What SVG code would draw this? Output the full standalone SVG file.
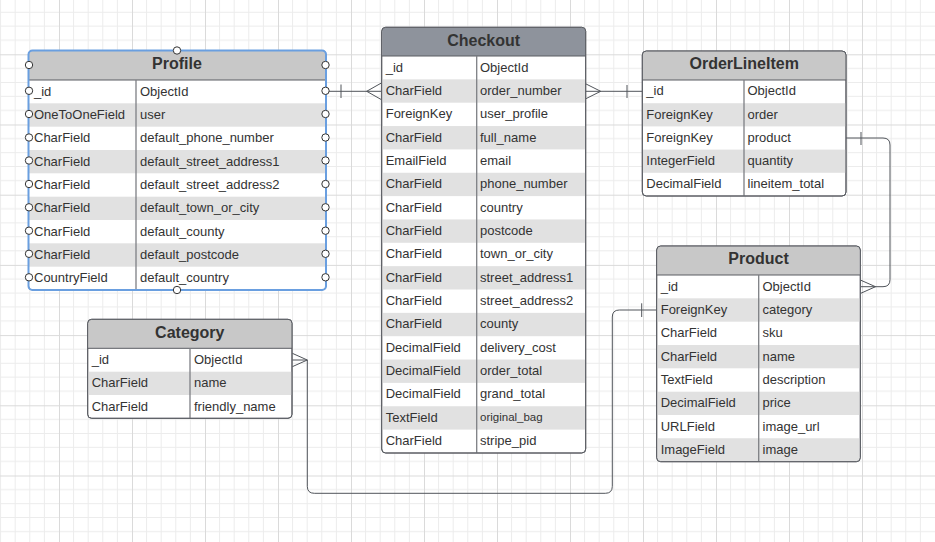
<svg xmlns="http://www.w3.org/2000/svg" width="935" height="542" viewBox="0 0 935 542">
<style>
.t{font-family:"Liberation Sans",Arial,sans-serif;font-size:13px;fill:#333}
.ts{font-family:"Liberation Sans",Arial,sans-serif;font-size:11.5px;fill:#333}
.h{font-family:"Liberation Sans",Arial,sans-serif;font-size:16px;font-weight:bold;fill:#333;text-anchor:middle}
.box{fill:#fff;stroke:#5a5d63;stroke-width:1}
.hd{fill:#c8c8c8}
.hdk{fill:#8e939c}
.g{fill:#e1e1e1}
.hl{stroke:#5a5d63;stroke-width:1}
.dv{stroke:#7d7f84;stroke-width:1.3}
.cn{fill:none;stroke:#50545a;stroke-width:1}
.hn{fill:#fff;stroke:#333;stroke-width:1}
</style>
<defs>
<pattern id="grid" patternUnits="userSpaceOnUse" x="59" y="54.3" width="73" height="70.2">
<path d="M14.6 0V70.2M29.2 0V70.2M43.8 0V70.2M58.4 0V70.2M0 14.04H73M0 28.08H73M0 42.12H73M0 56.16H73" stroke="#ececec" stroke-width="1" fill="none"/>
<path d="M0.5 0V70.2M0 0.5H73" stroke="#dadada" stroke-width="1" fill="none"/>
</pattern>
</defs>
<rect width="935" height="542" fill="#fff"/>
<rect width="935" height="542" fill="url(#grid)"/>

<g id="connectors">
<path class="cn" d="M326 91.3H381.7"/>
<path class="cn" d="M341 84.5V98"/>
<path class="cn" d="M381.7 82.8L366.7 91.3L381.7 99.8"/>
<path class="cn" d="M585.7 91.3H642.3"/>
<path class="cn" d="M585.7 83.8L600.7 91.3L585.7 98.8"/>
<path class="cn" d="M627 85V98"/>
<path class="cn" d="M846 138H883Q890 138 890 145V279.7Q890 286.7 883 286.7H860.3"/>
<path class="cn" d="M861 132V145"/>
<path class="cn" d="M860.3 280L875.5 286.7L860.3 293.5"/>
<path class="cn" d="M292.3 360H307.3V486.3Q307.3 493.3 314.3 493.3H605.3Q612.3 493.3 612.3 486.3V317Q612.3 310 619.3 310H656.7"/>
<path class="cn" d="M292.3 353.3L307.3 360L292.3 366.7"/>
<path class="cn" d="M641.7 303.3V317"/>
</g>

<g id="profile">
<rect class="box" x="28.5" y="50.5" width="297.5" height="239.5" rx="4"/>
<path class="hd" d="M32.5 51H322Q325.5 51 325.5 54.5V80H29V54.5Q29 51 32.5 51Z"/>
<rect class="g" x="29" y="103.3" width="296.5" height="23.4"/>
<rect class="g" x="29" y="150" width="296.5" height="23.3"/>
<rect class="g" x="29" y="196.7" width="296.5" height="23.3"/>
<rect class="g" x="29" y="243.3" width="296.5" height="23.4"/>
<path class="hl" d="M28.5 80H326"/>
<path class="dv" d="M136 80V290"/>
<rect x="28.5" y="50.5" width="297.5" height="239.5" rx="4" fill="none" stroke="#6a9fe0" stroke-width="2"/>
<text class="h" x="177" y="69">Profile</text>
<text class="t" x="34" y="95.5">_id</text><text class="t" x="140" y="95.5">ObjectId</text>
<text class="t" x="34" y="118.8">OneToOneField</text><text class="t" x="140" y="118.8">user</text>
<text class="t" x="34" y="142.1">CharField</text><text class="t" x="140" y="142.1">default_phone_number</text>
<text class="t" x="34" y="165.5">CharField</text><text class="t" x="140" y="165.5">default_street_address1</text>
<text class="t" x="34" y="188.8">CharField</text><text class="t" x="140" y="188.8">default_street_address2</text>
<text class="t" x="34" y="212.1">CharField</text><text class="t" x="140" y="212.1">default_town_or_city</text>
<text class="t" x="34" y="235.5">CharField</text><text class="t" x="140" y="235.5">default_county</text>
<text class="t" x="34" y="258.8">CharField</text><text class="t" x="140" y="258.8">default_postcode</text>
<text class="t" x="34" y="282.1">CountryField</text><text class="t" x="140" y="282.1">default_country</text>
<g id="profile-handles">
<circle class="hn" cx="177" cy="50.5" r="3.7"/><circle class="hn" cx="177" cy="290" r="3.7"/>
<circle class="hn" cx="29" cy="65" r="3.7"/><circle class="hn" cx="325.5" cy="65" r="3.7"/>
<circle class="hn" cx="29" cy="90.8" r="3.7"/><circle class="hn" cx="325.5" cy="90.8" r="3.7"/>
<circle class="hn" cx="29" cy="114" r="3.7"/><circle class="hn" cx="325.5" cy="114" r="3.7"/>
<circle class="hn" cx="29" cy="137.5" r="3.7"/><circle class="hn" cx="325.5" cy="137.5" r="3.7"/>
<circle class="hn" cx="29" cy="160.5" r="3.7"/><circle class="hn" cx="325.5" cy="160.5" r="3.7"/>
<circle class="hn" cx="29" cy="184" r="3.7"/><circle class="hn" cx="325.5" cy="184" r="3.7"/>
<circle class="hn" cx="29" cy="207.3" r="3.7"/><circle class="hn" cx="325.5" cy="207.3" r="3.7"/>
<circle class="hn" cx="29" cy="230.7" r="3.7"/><circle class="hn" cx="325.5" cy="230.7" r="3.7"/>
<circle class="hn" cx="29" cy="253.8" r="3.7"/><circle class="hn" cx="325.5" cy="253.8" r="3.7"/>
<circle class="hn" cx="29" cy="277.3" r="3.7"/><circle class="hn" cx="325.5" cy="277.3" r="3.7"/>
</g>
</g>

<g id="checkout">
<rect class="box" x="381.7" y="27.3" width="204" height="425.7" rx="4"/>
<path class="hdk" d="M385.7 27.8H581.7Q585.2 27.8 585.2 31.3V56H382.2V31.3Q382.2 27.8 385.7 27.8Z"/>
<rect class="g" x="382.2" y="79.35" width="203" height="23.35"/>
<rect class="g" x="382.2" y="126.05" width="203" height="23.35"/>
<rect class="g" x="382.2" y="172.75" width="203" height="23.35"/>
<rect class="g" x="382.2" y="219.45" width="203" height="23.35"/>
<rect class="g" x="382.2" y="266.15" width="203" height="23.35"/>
<rect class="g" x="382.2" y="312.85" width="203" height="23.35"/>
<rect class="g" x="382.2" y="359.55" width="203" height="23.35"/>
<rect class="g" x="382.2" y="406.25" width="203" height="23.35"/>
<path class="hl" d="M381.7 56H585.7"/>
<path class="dv" d="M476.7 56V453"/>
<rect x="381.7" y="27.3" width="204" height="425.7" rx="4" fill="none" stroke="#5a5d63"/>
<text class="h" x="483.7" y="45.8">Checkout</text>
<text class="t" x="385.7" y="71.5">_id</text><text class="t" x="480" y="71.5">ObjectId</text>
<text class="t" x="385.7" y="94.8">CharField</text><text class="t" x="480" y="94.8">order_number</text>
<text class="t" x="385.7" y="118.2">ForeignKey</text><text class="t" x="480" y="118.2">user_profile</text>
<text class="t" x="385.7" y="141.5">CharField</text><text class="t" x="480" y="141.5">full_name</text>
<text class="t" x="385.7" y="164.9">EmailField</text><text class="t" x="480" y="164.9">email</text>
<text class="t" x="385.7" y="188.2">CharField</text><text class="t" x="480" y="188.2">phone_number</text>
<text class="t" x="385.7" y="211.6">CharField</text><text class="t" x="480" y="211.6">country</text>
<text class="t" x="385.7" y="234.9">CharField</text><text class="t" x="480" y="234.9">postcode</text>
<text class="t" x="385.7" y="258.3">CharField</text><text class="t" x="480" y="258.3">town_or_city</text>
<text class="t" x="385.7" y="281.6">CharField</text><text class="t" x="480" y="281.6">street_address1</text>
<text class="t" x="385.7" y="305">CharField</text><text class="t" x="480" y="305">street_address2</text>
<text class="t" x="385.7" y="328.3">CharField</text><text class="t" x="480" y="328.3">county</text>
<text class="t" x="385.7" y="351.7">DecimalField</text><text class="t" x="480" y="351.7">delivery_cost</text>
<text class="t" x="385.7" y="375">DecimalField</text><text class="t" x="480" y="375">order_total</text>
<text class="t" x="385.7" y="398.4">DecimalField</text><text class="t" x="480" y="398.4">grand_total</text>
<text class="t" x="385.7" y="421.7">TextField</text><text class="ts" x="480" y="421.3">original_bag</text>
<text class="t" x="385.7" y="445.1">CharField</text><text class="t" x="480" y="445.1">stripe_pid</text>
</g>

<g id="orderlineitem">
<rect class="box" x="642.3" y="51" width="203.7" height="145" rx="4"/>
<path class="hd" d="M646.3 51.5H842Q845.5 51.5 845.5 55V80H642.8V55Q642.8 51.5 646.3 51.5Z"/>
<rect class="g" x="642.8" y="103.2" width="202.7" height="23.2"/>
<rect class="g" x="642.8" y="149.6" width="202.7" height="23.2"/>
<path class="hl" d="M642.3 80H846"/>
<path class="dv" d="M744 80V196"/>
<rect x="642.3" y="51" width="203.7" height="145" rx="4" fill="none" stroke="#5a5d63"/>
<text class="h" x="744.2" y="69.3">OrderLineItem</text>
<text class="t" x="646.3" y="95.4">_id</text><text class="t" x="747.5" y="95.4">ObjectId</text>
<text class="t" x="646.3" y="118.6">ForeignKey</text><text class="t" x="747.5" y="118.6">order</text>
<text class="t" x="646.3" y="141.8">ForeignKey</text><text class="t" x="747.5" y="141.8">product</text>
<text class="t" x="646.3" y="165">IntegerField</text><text class="t" x="747.5" y="165">quantity</text>
<text class="t" x="646.3" y="188.2">DecimalField</text><text class="t" x="747.5" y="188.2">lineitem_total</text>
</g>

<g id="product">
<rect class="box" x="656.7" y="246" width="203.6" height="215.7" rx="4"/>
<path class="hd" d="M660.7 246.5H856.3Q859.8 246.5 859.8 250V275H657.2V250Q657.2 246.5 660.7 246.5Z"/>
<rect class="g" x="657.2" y="298.3" width="202.6" height="23.4"/>
<rect class="g" x="657.2" y="345" width="202.6" height="23.3"/>
<rect class="g" x="657.2" y="391.7" width="202.6" height="23.3"/>
<path class="g" d="M657.2 438.3H859.8V457.7Q859.8 461.2 856.3 461.2H660.7Q657.2 461.2 657.2 457.7Z"/>
<path class="hl" d="M656.7 275H860.3"/>
<path class="dv" d="M758.7 275V461.7"/>
<rect x="656.7" y="246" width="203.6" height="215.7" rx="4" fill="none" stroke="#5a5d63"/>
<text class="h" x="758.5" y="264.3">Product</text>
<text class="t" x="660.7" y="290.5">_id</text><text class="t" x="762.5" y="290.5">ObjectId</text>
<text class="t" x="660.7" y="313.8">ForeignKey</text><text class="t" x="762.5" y="313.8">category</text>
<text class="t" x="660.7" y="337.1">CharField</text><text class="t" x="762.5" y="337.1">sku</text>
<text class="t" x="660.7" y="360.5">CharField</text><text class="t" x="762.5" y="360.5">name</text>
<text class="t" x="660.7" y="383.8">TextField</text><text class="t" x="762.5" y="383.8">description</text>
<text class="t" x="660.7" y="407.1">DecimalField</text><text class="t" x="762.5" y="407.1">price</text>
<text class="t" x="660.7" y="430.5">URLField</text><text class="t" x="762.5" y="430.5">image_url</text>
<text class="t" x="660.7" y="453.8">ImageField</text><text class="t" x="762.5" y="453.8">image</text>
</g>

<g id="category">
<rect class="box" x="87.7" y="319.3" width="204.3" height="99" rx="4"/>
<path class="hd" d="M91.7 319.8H288Q291.5 319.8 291.5 323.3V348.3H88.2V323.3Q88.2 319.8 91.7 319.8Z"/>
<rect class="g" x="88.2" y="371.7" width="203.3" height="23.3"/>
<path class="hl" d="M87.7 348.3H292"/>
<path class="dv" d="M190 348.3V418.3"/>
<rect x="87.7" y="319.3" width="204.3" height="99" rx="4" fill="none" stroke="#5a5d63"/>
<text class="h" x="189.8" y="337.8">Category</text>
<text class="t" x="91.7" y="363.8">_id</text><text class="t" x="194" y="363.8">ObjectId</text>
<text class="t" x="91.7" y="387.1">CharField</text><text class="t" x="194" y="387.1">name</text>
<text class="t" x="91.7" y="410.5">CharField</text><text class="t" x="194" y="410.5">friendly_name</text>
</g>
</svg>
